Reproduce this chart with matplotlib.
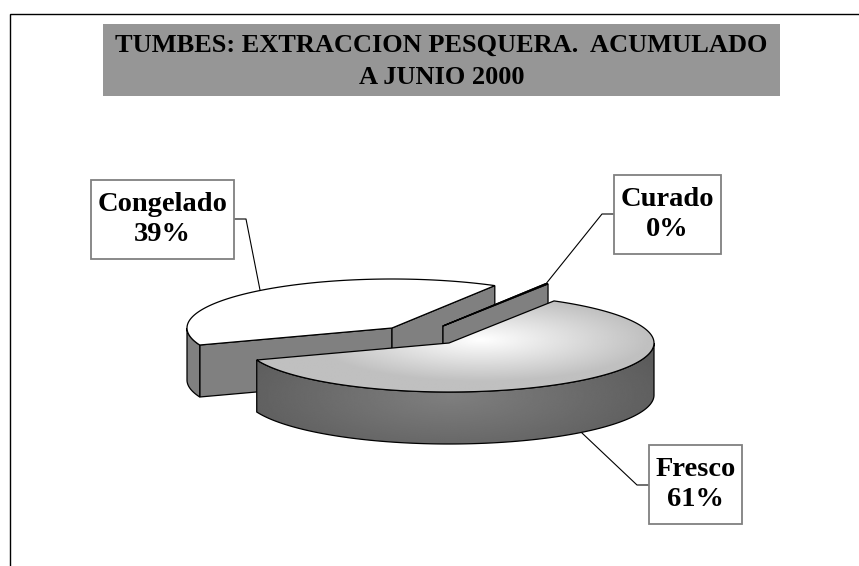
import numpy as np
import matplotlib
matplotlib.use('Agg')
import matplotlib.pyplot as plt
from matplotlib.patches import Polygon, Rectangle

# data
categories = ['Congelado', 'Curado', 'Fresco']
values = [39.0, 0.2, 60.8]
labels_pct = ['39%', '0%', '61%']
title_lines = ['TUMBES: EXTRACCION PESQUERA.  ACUMULADO', 'A JUNIO 2000']

# pie geometry, in pixels
CX, CY = 449, 343
RX, RY = 205, 49
DEPTH = 52
START = 200.3  # congelado starts here and runs clockwise
OFFSETS = {'Congelado': (-57, -15), 'Curado': (-6, -17), 'Fresco': (0, 0)}
BOXES = {'Congelado': (91, 180, 234, 259), 'Curado': (614, 175, 721, 254), 'Fresco': (649, 445, 742, 524)}
LEADERS = {'Congelado': [(234, 219), (246, 219), (260, 290)],
           'Curado': [(614, 214), (602, 214), (545, 285)],
           'Fresco': [(649, 485), (637, 485), (582, 433)]}

font = ['Liberation Serif', 'DejaVu Serif']

fig = plt.figure(figsize=(8.59, 5.66), dpi=100)
ax = fig.add_axes([0, 0, 1, 1])
ax.set_xlim(0, 859)
ax.set_ylim(566, 0)
ax.axis('off')


def arc(a0, a1, ox, oy, dz=0):
    t = np.radians(np.linspace(a0, a1, 200))
    return np.column_stack([CX + ox + RX * np.cos(t), CY + oy - RY * np.sin(t) + dz])


def gradient(poly_pts, func, zorder):
    # pixel-wise shade clipped to a polygon
    x0, x1 = poly_pts[:, 0].min() - 2, poly_pts[:, 0].max() + 2
    y0, y1 = poly_pts[:, 1].min() - 2, poly_pts[:, 1].max() + 2
    xx, yy = np.meshgrid(np.linspace(x0, x1, 300), np.linspace(y0, y1, 200))
    im = ax.imshow(func(xx, yy), extent=(x0, x1, y1, y0), cmap='gray', vmin=0, vmax=1,
                   aspect='auto', zorder=zorder, interpolation='bilinear')
    clip = Polygon(poly_pts, closed=True, transform=ax.transData, fc='none', ec='none')
    ax.add_patch(clip)
    im.set_clip_path(clip)


def top_shade(xx, yy):
    d = np.hypot((xx - 480) / 170, (yy - 340) / 42)
    return np.clip(1.0 - 0.25 * d, 0.75, 1.0)


def side_shade(xx, yy):
    d = np.hypot((xx - 450) / 210, (yy - 395) / 70)
    return np.clip(0.50 - 0.13 * d, 0.36, 0.5)


# slices run clockwise from START
angles = [START]
for v in values:
    angles.append(angles[-1] - v / sum(values) * 360)

z = 2
for i, name in enumerate(categories):
    a0, a1 = angles[i], angles[i + 1]
    ox, oy = OFFSETS[name]
    apex = np.array([CX + ox, CY + oy])
    top = np.vstack([apex, arc(a0, a1, ox, oy)])

    # radial walls, fresco has none facing the viewer
    if name != 'Fresco':
        for a in (a0, a1):
            edge = arc(a, a, ox, oy)[0]
            wall = np.array([apex, edge, edge + [0, DEPTH], apex + [0, DEPTH]])
            ax.add_patch(Polygon(wall, closed=True, fc='#808080', ec='black', lw=0.9, zorder=z))

    if name == 'Congelado':
        pts = np.vstack([arc(a0, 180, ox, oy), arc(180, a0, ox, oy, DEPTH)])
        ax.add_patch(Polygon(pts, closed=True, fc='#808080', ec='black', lw=0.9, zorder=z + 0.2))
    if name == 'Fresco':
        # front wall goes from the right extreme round to the left end of the slice
        pts = np.vstack([arc(0, a1, ox, oy), arc(a1, 0, ox, oy, DEPTH)])
        gradient(pts, side_shade, z + 0.2)
        ax.add_patch(Polygon(pts, closed=True, fc='none', ec='black', lw=0.9, zorder=z + 0.3))
        gradient(top, top_shade, z + 0.4)
        ax.add_patch(Polygon(top, closed=True, fc='none', ec='black', lw=0.9, zorder=z + 0.5))
    else:
        ax.add_patch(Polygon(top, closed=True, fc='white', ec='black', lw=0.9, zorder=z + 0.5))
    z += 1

# leader lines and labels
for name, pct in zip(categories, labels_pct):
    xs, ys = zip(*LEADERS[name])
    ax.plot(xs, ys, color='black', lw=0.8, zorder=8)
    bx0, by0, bx1, by1 = BOXES[name]
    ax.add_patch(Rectangle((bx0, by0), bx1 - bx0, by1 - by0, fc='white', ec='#808080', lw=1.3, zorder=9))
    ax.text((bx0 + bx1) / 2, (by0 + by1) / 2, name + '\n' + pct, ha='center', va='center',
            family=font, fontweight='bold', fontsize=20.5, linespacing=1.3, zorder=10)

# title banner
ax.add_patch(Rectangle((103, 24), 677, 72, fc='#969696', ec='none', zorder=1))
ax.text(441.5, 45, title_lines[0], ha='center', va='center', family=font, fontweight='bold', fontsize=19, zorder=2)
ax.text(441.5, 77, title_lines[1], ha='center', va='center', family=font, fontweight='bold', fontsize=19, zorder=2)

# outer frame, only top and left are visible
ax.plot([9.5, 9.5, 859], [566, 13.5, 13.5], color='black', lw=1.0, zorder=1, solid_joinstyle='miter')

ax.set_xlim(0, 859)
ax.set_ylim(566, 0)
fig.savefig('out.png', dpi=100)
